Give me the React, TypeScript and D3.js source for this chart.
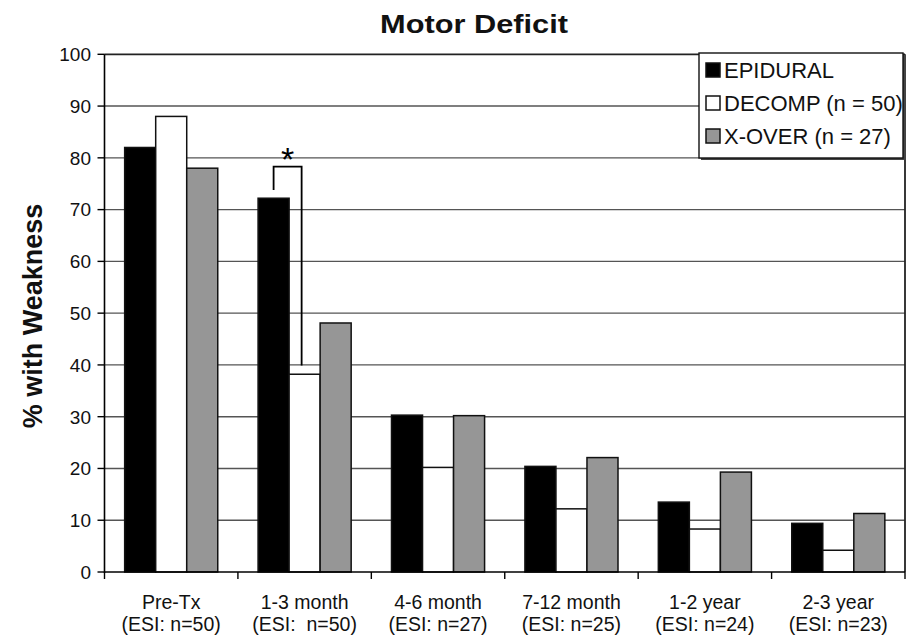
import React from "react";
import * as d3 from "d3";

const categories = ["Pre-Tx", "1-3 month", "4-6 month", "7-12 month", "1-2 year", "2-3 year"];
const subLabels = ["(ESI: n=50)", "(ESI:  n=50)", "(ESI: n=27)", "(ESI: n=25)", "(ESI: n=24)", "(ESI: n=23)"];
const seriesNames = ["EPIDURAL", "DECOMP (n = 50)", "X-OVER (n = 27)"];
const epidural = [82, 72.2, 30.3, 20.4, 13.5, 9.4];
const decomp = [88, 38.2, 20.2, 12.2, 8.3, 4.2];
const xover = [78, 48.1, 30.2, 22.1, 19.3, 11.3];
const seriesValues = [epidural, decomp, xover];
const yTicks = [0, 10, 20, 30, 40, 50, 60, 70, 80, 90, 100];
// significance bracket: category index, from series 0 to series 1
const bracketCat = 1;
const bracketTop = 78.3;
const bracketLeftEnd = 73.8;
const bracketRightEnd = 39.9;

const fills = ["#000000", "#ffffff", "#969696"];
const FONT = "'Liberation Sans', Arial, Helvetica, sans-serif";

export default function App() {
  const W = 912, H = 637;
  const left = 104.5, right = 905, top = 54.3, bottom = 572;
  const x = d3.scaleBand<string>().domain(categories).range([left, right]).paddingInner(0).paddingOuter(0);
  const xs = d3.scaleBand<number>().domain([0, 1, 2]).range([0, x.bandwidth()]).paddingInner(0).paddingOuter(0.65);
  const y = d3.scaleLinear().domain([0, 100]).range([bottom, top]);

  const bx0 = (x(categories[bracketCat]) as number) + (xs(0) as number) + xs.bandwidth() / 2;
  const bx1 = (x(categories[bracketCat]) as number) + (xs(1) as number) + xs.bandwidth() / 2 - 3;

  return (
    <svg width={W} height={H} style={{ position: "absolute", left: 0, top: 0, background: "#fff" }} fontFamily={FONT}>
      <rect x={0} y={0} width={W} height={H} fill="#fff" />
      {/* gridlines */}
      {yTicks.filter((t) => t > 0 && t < 100).map((t) => (
        <line key={t} x1={left} x2={right} y1={y(t)} y2={y(t)} stroke="#555" strokeWidth={1.4} />
      ))}
      {/* plot border top & right */}
      <line x1={left} x2={right} y1={y(100)} y2={y(100)} stroke="#222" strokeWidth={1.8} />
      <line x1={right} x2={right} y1={y(100)} y2={bottom} stroke="#222" strokeWidth={1.8} />
      {/* bars */}
      {categories.map((c, ci) => (
        <g key={c}>
          {seriesValues.map((vals, si) => (
            <rect
              key={si}
              x={(x(c) as number) + (xs(si) as number)}
              y={y(vals[ci])}
              width={xs.bandwidth()}
              height={bottom - y(vals[ci])}
              fill={fills[si]}
              stroke="#111"
              strokeWidth={1.5}
            />
          ))}
        </g>
      ))}
      {/* axes */}
      <line x1={left} x2={left} y1={y(100)} y2={bottom + 1} stroke="#000" strokeWidth={1.6} />
      <line x1={left} x2={right} y1={bottom} y2={bottom} stroke="#000" strokeWidth={1.6} />
      {yTicks.map((t) => (
        <g key={t}>
          <line x1={left - 7} x2={left} y1={y(t)} y2={y(t)} stroke="#000" strokeWidth={1.4} />
          <text x={91} y={y(t)} dy="0.36em" textAnchor="end" fontSize={19} fill="#111">{t}</text>
        </g>
      ))}
      {d3.range(categories.length + 1).map((i) => {
        const xx = left + i * x.step();
        return <line key={i} x1={xx} x2={xx} y1={bottom} y2={bottom + 7} stroke="#000" strokeWidth={1.4} />;
      })}
      {categories.map((c, ci) => {
        const cx = (x(c) as number) + x.bandwidth() / 2;
        return (
          <g key={c}>
            <text x={cx} y={609} textAnchor="middle" fontSize={19.5} fill="#111">{c}</text>
            <text x={cx} y={631} textAnchor="middle" fontSize={19.5} fill="#111" style={{ whiteSpace: "pre" }}>{subLabels[ci]}</text>
          </g>
        );
      })}
      {/* significance bracket */}
      <path
        d={`M${bx0},${y(bracketLeftEnd)}V${y(bracketTop)}H${bx1}V${y(bracketRightEnd)}`}
        fill="none"
        stroke="#000"
        strokeWidth={1.8}
      />
      <text x={(bx0 + bx1) / 2} y={171} textAnchor="middle" fontSize={34} fill="#000">*</text>
      {/* title */}
      <text x={474} y={33} textAnchor="middle" fontSize={25.5} fontWeight="bold" textLength={188} lengthAdjust="spacingAndGlyphs" fill="#111">Motor Deficit</text>
      {/* y title */}
      <text transform={`translate(42,316) rotate(-90)`} textAnchor="middle" fontSize={27} fontWeight="bold" fill="#111">% with Weakness</text>
      {/* legend */}
      <rect x={701} y={55} width={205} height={105} fill="#444" />
      <rect x={699} y={53} width={204} height={105} fill="#fff" stroke="#111" strokeWidth={1.4} />
      {seriesNames.map((s, i) => {
        const cy = 70 + i * 33;
        return (
          <g key={s}>
            <rect x={706} y={cy - 7} width={14} height={14} fill={fills[i]} stroke="#111" strokeWidth={1.5} />
            <text x={724} y={cy} dy="0.36em" fontSize={22} fill="#111">{s}</text>
          </g>
        );
      })}
    </svg>
  );
}
